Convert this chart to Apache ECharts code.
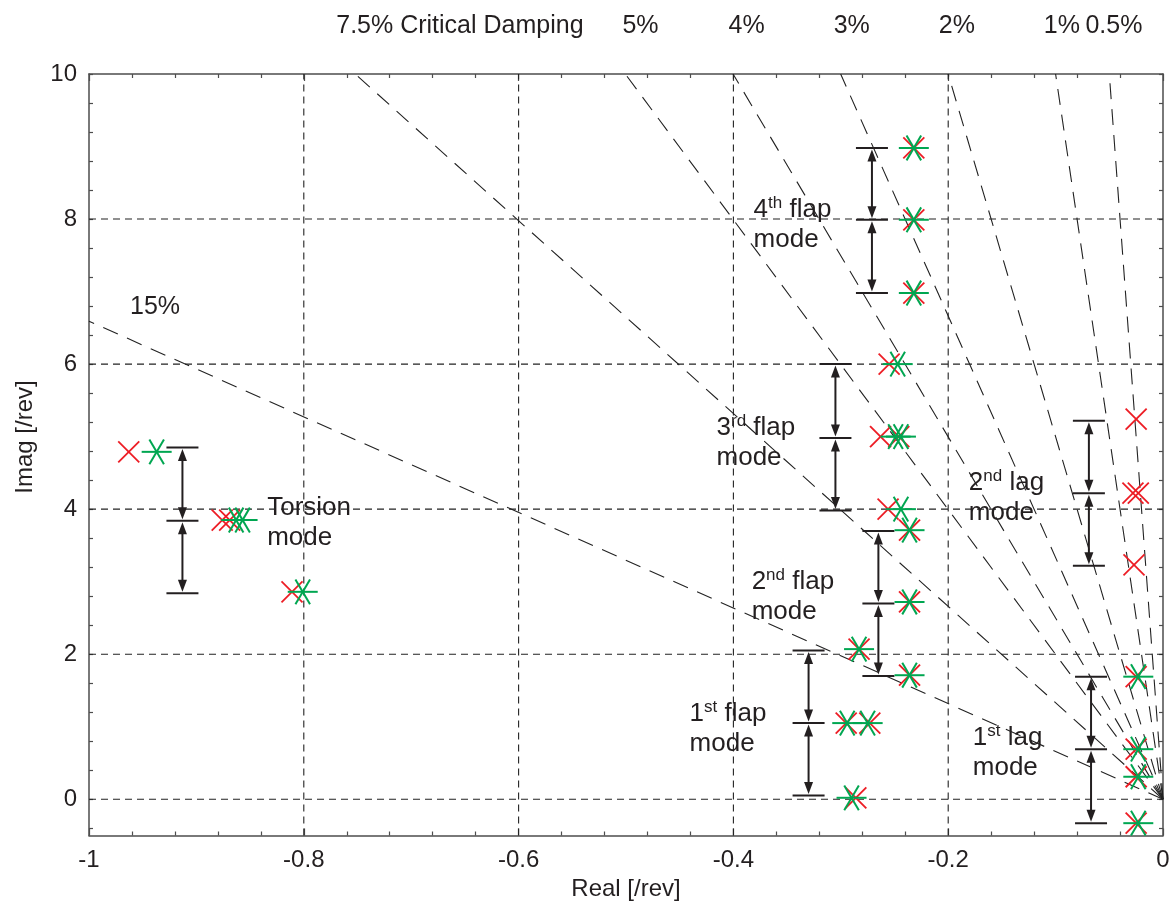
<!DOCTYPE html>
<html>
<head>
<meta charset="utf-8">
<title>Pole map</title>
<script src="https://cdn.jsdelivr.net/npm/echarts@6/dist/echarts.min.js"></script>
<style>
  html, body { margin: 0; padding: 0; background: #fff; }
  #chart { width: 1169px; height: 920px; }
</style>
</head>
<body>
<div id="chart"></div>
<script>
// ---- axis ticks ----
const xTickLabels = [-1, -0.8, -0.6, -0.4, -0.2, 0];
const yTickLabels = [0, 2, 4, 6, 8, 10];
const yMinorTicks = [-0.4, 0, 0.4, 0.8, 1.2, 1.6, 2, 2.4, 2.8, 3.2, 3.6, 4, 4.4, 4.8, 5.2, 5.6, 6,
                     6.4, 6.8, 7.2, 7.6, 8, 8.4, 8.8, 9.2, 9.6, 10];
const gridX = [-0.8, -0.6, -0.4, -0.2];
const gridY = [0, 2, 4, 6, 8];

// ---- constant critical-damping rays (percent) ----
const dampingPct = [15, 7.5, 5, 4, 3, 2, 1, 0.5];
// label anchors for the rays, [real, imag]
const dampingLabelPos = [[-0.9385, 6.79], [-0.7698, 10.66], [-0.4865, 10.66], [-0.3877, 10.66],
                         [-0.2898, 10.66], [-0.1920, 10.66], [-0.0941, 10.66], [-0.0457, 10.66]];

// ---- pole estimates [real, imag] in /rev ----
const polesCross = [
  [-0.963, 4.79], [-0.876, 3.85], [-0.869, 3.85], [-0.811, 2.86],          // torsion
  [-0.286, 0.02], [-0.295, 1.05], [-0.273, 1.05], [-0.283, 2.07],          // 1st flap
  [-0.236, 1.71], [-0.236, 2.72], [-0.236, 3.71],                          // 2nd flap
  [-0.256, 4.00], [-0.263, 5.00], [-0.246, 5.00], [-0.255, 6.00],          // 3rd flap
  [-0.232, 6.98], [-0.232, 7.99], [-0.232, 8.98],                          // 4th flap
  [-0.027, 3.23], [-0.028, 4.22], [-0.023, 4.22], [-0.025, 5.24],          // 2nd lag
  [-0.025, -0.33], [-0.025, 0.31], [-0.025, 0.69], [-0.025, 1.69]          // 1st lag
];
const polesStar = [
  [-0.937, 4.79], [-0.863, 3.85], [-0.857, 3.85], [-0.801, 2.86],          // torsion
  [-0.290, 0.02], [-0.294, 1.05], [-0.275, 1.05], [-0.283, 2.07],          // 1st flap
  [-0.236, 1.71], [-0.236, 2.72], [-0.236, 3.71],                          // 2nd flap
  [-0.244, 4.00], [-0.249, 5.00], [-0.244, 5.00], [-0.247, 6.00],          // 3rd flap
  [-0.232, 6.98], [-0.232, 7.99], [-0.232, 8.98],                          // 4th flap
  [-0.023, -0.33], [-0.023, 0.31], [-0.023, 0.69], [-0.023, 1.69]          // 1st lag
];

// ---- 1/rev spacing brackets: [real, cap1, cap2, cap3] ----
const rangeBars = [
  [-0.913, 2.84, 3.84, 4.85],   // torsion
  [-0.330, 0.05, 1.05, 2.05],   // 1st flap
  [-0.265, 1.70, 2.70, 3.70],   // 2nd flap
  [-0.305, 3.98, 4.98, 6.00],   // 3rd flap
  [-0.271, 6.98, 7.99, 8.98],   // 4th flap
  [-0.069, 3.22, 4.22, 5.22],   // 2nd lag
  [-0.067, -0.33, 0.69, 1.69]   // 1st lag
];

// ---- mode annotations: [real, imag] of the left/centre of each two-line label ----
const modeLabelPos = [[-0.8341, 3.807], [-0.4408, 0.966], [-0.3830, 2.786], [-0.4157, 4.917],
                      [-0.3812, 7.917], [-0.1808, 4.159], [-0.1771, 0.634]];
const modeLabelText = ['Torsion\nmode', '1{s|st} flap\nmode', '2{s|nd} flap\nmode', '3{s|rd} flap\nmode',
                       '4{s|th} flap\nmode', '2{s|nd} lag\nmode', '1{s|st} lag\nmode'];

// ---- styling ----
const FONT = '"Liberation Sans", Arial, Helvetica, sans-serif';
const INK = '#231f20';
const AXIS = '#4d4d4d';
const RED = '#ed1c24';
const GREEN = '#00a651';

const chart = echarts.init(document.getElementById('chart'), null, { renderer: 'canvas' });

function fmtTick(v) {
  const r = Math.round(v * 10) / 10;
  return r === 0 ? '0' : String(r);
}

// damping rays from the origin out to the plot frame
const dampingSeries = dampingPct.map(p => {
  const z = p / 100;
  const k = Math.sqrt(1 - z * z) / z;  // imag / (-real)
  let y = 10, x = -y / k;
  if (x < -1) { x = -1; y = k; }
  return {
    type: 'line', data: [[0, 0], [x, y]], symbol: 'none', silent: true, z: 2,
    lineStyle: { color: '#222', width: 1.1, type: [16, 10] }
  };
});

const gridSeries = [
  ...gridY.map(v => ({ type: 'line', data: [[-1, v], [0, v]], symbol: 'none', silent: true, z: 1,
    lineStyle: { color: '#222', width: 1.1, type: [7, 5] } })),
  ...gridX.map(v => ({ type: 'line', data: [[v, -0.5], [v, 10]], symbol: 'none', silent: true, z: 1,
    lineStyle: { color: '#222', width: 1.1, type: [7, 5] } }))
];

function crossItem(params, api) {
  const p = api.coord([api.value(0), api.value(1)]);
  const r = 10.5;
  const st = { stroke: RED, lineWidth: 1.8 };
  return { type: 'group', children: [
    { type: 'line', shape: { x1: p[0] - r, y1: p[1] - r, x2: p[0] + r, y2: p[1] + r }, style: st },
    { type: 'line', shape: { x1: p[0] - r, y1: p[1] + r, x2: p[0] + r, y2: p[1] - r }, style: st }
  ] };
}

function starItem(params, api) {
  const p = api.coord([api.value(0), api.value(1)]);
  const h = 15, dx = 7.3, dy = 12.4;
  const st = { stroke: GREEN, lineWidth: 2 };
  return { type: 'group', children: [
    { type: 'line', shape: { x1: p[0] - h, y1: p[1], x2: p[0] + h, y2: p[1] }, style: st },
    { type: 'line', shape: { x1: p[0] - dx, y1: p[1] - dy, x2: p[0] + dx, y2: p[1] + dy }, style: st },
    { type: 'line', shape: { x1: p[0] - dx, y1: p[1] + dy, x2: p[0] + dx, y2: p[1] - dy }, style: st }
  ] };
}

function rangeBarItem(params, api) {
  const x = api.value(0);
  const caps = [api.value(1), api.value(2), api.value(3)].map(v => api.coord([x, v]));
  const AH = 12, AW = 4.5, GAP = 1.5, HALF = 16;
  const children = [];
  caps.forEach(p => children.push({ type: 'line',
    shape: { x1: p[0] - HALF, y1: p[1], x2: p[0] + HALF, y2: p[1] },
    style: { stroke: INK, lineWidth: 2 } }));
  for (let i = 0; i < caps.length - 1; i++) {
    const lo = caps[i], hi = caps[i + 1];
    const cx = lo[0];
    const yl = lo[1] - GAP, yh = hi[1] + GAP;
    children.push({ type: 'line', shape: { x1: cx, y1: yl - AH + 1, x2: cx, y2: yh + AH - 1 },
      style: { stroke: INK, lineWidth: 2 } });
    children.push({ type: 'polygon', shape: { points: [[cx, yl], [cx - AW, yl - AH], [cx + AW, yl - AH]] },
      style: { fill: INK } });
    children.push({ type: 'polygon', shape: { points: [[cx, yh], [cx - AW, yh + AH], [cx + AW, yh + AH]] },
      style: { fill: INK } });
  }
  return { type: 'group', children };
}

function modeLabelItem(params, api) {
  const p = api.coord([api.value(0), api.value(1)]);
  return { type: 'text', x: p[0], y: p[1], style: {
    text: modeLabelText[params.dataIndex],
    fontFamily: FONT, fontSize: 26, lineHeight: 30, fill: INK,
    align: 'left', verticalAlign: 'middle',
    rich: { s: { fontFamily: FONT, fontSize: 17, lineHeight: 16, verticalAlign: 'top', fill: INK } }
  } };
}

function dampingLabelItem(params, api) {
  const p = api.coord([api.value(0), api.value(1)]);
  const i = params.dataIndex;
  const pct = dampingPct[i];
  const text = pct === 7.5 ? pct + '% Critical Damping' : pct + '%';
  return { type: 'text', x: p[0], y: p[1], style: {
    text, fontFamily: FONT, fontSize: 25, fill: INK,
    align: pct === 7.5 ? 'left' : 'center', verticalAlign: 'middle'
  } };
}

const tickFont = { fontFamily: FONT, fontSize: 24, color: INK };

const option = {
  animation: false,
  backgroundColor: '#fff',
  grid: { left: 89, right: 6, top: 74, bottom: 84.5, containLabel: false, outerBoundsMode: 'none' },
  xAxis: [
    {
      type: 'value', min: -1, max: 0, interval: 0.2, position: 'bottom',
      name: 'Real [/rev]', nameLocation: 'middle', nameGap: 26,
      nameTextStyle: { fontFamily: FONT, fontSize: 24, color: INK },
      axisLine: { show: true, onZero: false, lineStyle: { color: AXIS, width: 1.5 } },
      axisTick: { show: true, inside: true, length: 7, lineStyle: { color: AXIS, width: 1.2 } },
      minorTick: { show: true, splitNumber: 5, length: 4, lineStyle: { color: AXIS, width: 1.2 } },
      axisLabel: Object.assign({ margin: 13, formatter: fmtTick }, tickFont),
      splitLine: { show: false }
    },
    {
      type: 'value', min: -1, max: 0, interval: 0.2, position: 'top',
      axisLine: { show: true, onZero: false, lineStyle: { color: AXIS, width: 1.5 } },
      axisTick: { show: true, inside: true, length: 7, lineStyle: { color: AXIS, width: 1.2 } },
      minorTick: { show: true, splitNumber: 5, length: 4, lineStyle: { color: AXIS, width: 1.2 } },
      axisLabel: { show: false },
      splitLine: { show: false }
    }
  ],
  yAxis: [
    {
      type: 'value', min: -0.5, max: 10, position: 'left',
      axisLine: { show: true, onZero: false, lineStyle: { color: AXIS, width: 1.5 } },
      axisTick: { show: true, inside: true, length: 4, customValues: yMinorTicks,
                  lineStyle: { color: AXIS, width: 1.2 } },
      axisLabel: Object.assign({ margin: 12, customValues: yTickLabels, formatter: v => String(v) }, tickFont),
      splitLine: { show: false }
    },
    {
      type: 'value', min: -0.5, max: 10, position: 'right',
      axisLine: { show: true, onZero: false, lineStyle: { color: AXIS, width: 1.5 } },
      axisTick: { show: true, inside: true, length: 4, customValues: yMinorTicks,
                  lineStyle: { color: AXIS, width: 1.2 } },
      axisLabel: { show: false },
      splitLine: { show: false }
    }
  ],
  graphic: [
    { type: 'text', x: 25, y: 437, rotation: Math.PI / 2,
      style: { text: 'Imag [/rev]', fontFamily: FONT, fontSize: 24, fill: INK,
               align: 'center', verticalAlign: 'middle' } }
  ],
  series: [
    ...gridSeries,
    ...dampingSeries,
    { type: 'custom', name: 'spacing', data: rangeBars, renderItem: rangeBarItem, z: 3, silent: true,
      encode: { x: 0, y: [1, 2, 3] } },
    { type: 'custom', name: 'cross poles', data: polesCross, renderItem: crossItem, z: 4, silent: true },
    { type: 'custom', name: 'star poles', data: polesStar, renderItem: starItem, z: 5, silent: true },
    { type: 'custom', name: 'mode labels', data: modeLabelPos, renderItem: modeLabelItem, z: 6, silent: true },
    { type: 'custom', name: 'damping labels', data: dampingLabelPos, renderItem: dampingLabelItem, z: 6,
      silent: true, clip: false }
  ]
};

chart.setOption(option);
</script>
</body>
</html>
